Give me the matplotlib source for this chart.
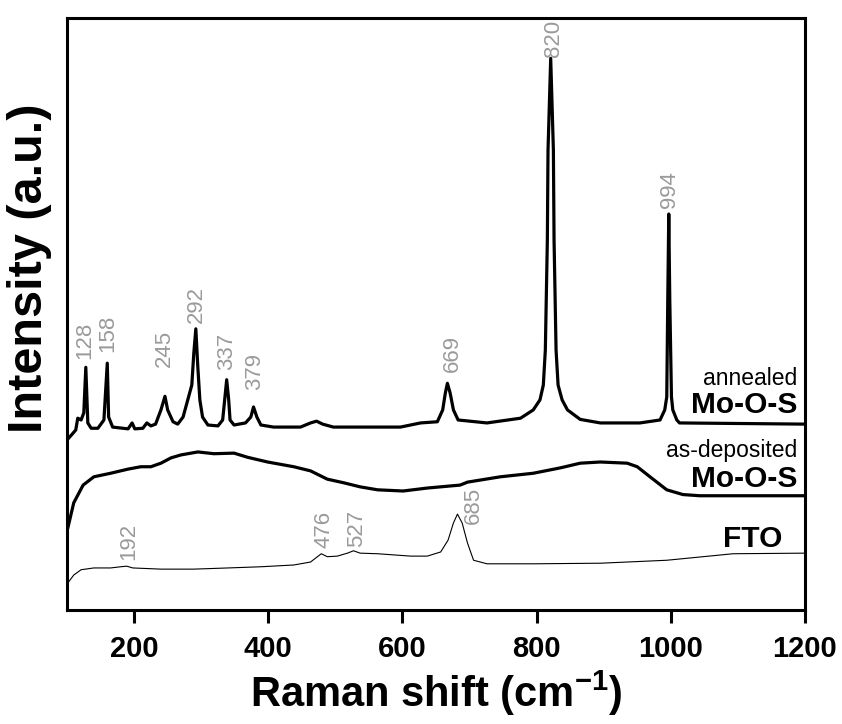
import matplotlib
matplotlib.use("Agg")
import matplotlib.pyplot as plt

# Raman shift (cm-1) and intensity (a.u., stacked)
annealed_shift = [103, 113, 116, 121, 125, 128, 131, 136, 146, 155, 160, 162, 168, 191, 197, 201,
                  213, 219, 225, 232, 240, 246, 250, 258, 265, 273, 280, 286, 289, 292, 295, 298,
                  302, 310, 325, 332, 335, 338, 341, 343, 349, 366, 374, 378, 383, 389, 408, 448,
                  463, 472, 481, 497, 508, 597, 627, 652, 660, 664, 667, 671, 676, 683, 726, 776,
                  795, 805, 810, 813, 816, 817, 821, 825, 826, 829, 832, 838, 846, 865, 895, 954,
                  984, 991, 994, 995.5, 997, 998.5, 1001, 1003, 1009, 1013, 1200]
annealed_int = [29.1, 30.4, 32.4, 32.1, 33.3, 41.0, 31.6, 30.7, 30.7, 32.1, 41.7, 32.6, 30.9, 30.6, 31.6, 30.6,
                30.7, 31.6, 31.1, 31.4, 33.8, 36.1, 33.8, 31.8, 31.4, 32.6, 35.5, 38.0, 43.4, 47.5, 41.0, 35.5,
                32.6, 31.25, 31.1, 32.1, 35.5, 38.9, 35.5, 32.1, 31.25, 31.6, 32.6, 34.3, 32.6, 31.25, 30.9, 30.9,
                31.6, 31.9, 31.4, 30.9, 30.9, 30.9, 31.6, 31.8, 33.8, 36.7, 38.3, 36.7, 33.8, 32.1, 31.6, 32.4,
                33.8, 35.5, 38.0, 43.9, 62.5, 77.7, 93.2, 77.7, 62.5, 43.9, 38.0, 35.5, 33.8, 32.2, 31.6, 31.6,
                32.1, 33.8, 36.0, 52.4, 66.9, 52.4, 36.0, 33.8, 32.1, 31.6, 31.4]

deposited_shift = [101.5, 110, 124, 140, 165, 191, 210, 225, 240, 255, 270, 295, 319, 349, 369, 399,
                   438, 463, 488, 512, 537, 563, 601, 637, 686, 697, 746, 795, 835, 865, 895, 935,
                   950, 969, 994, 1018, 1043, 1200]
deposited_int = [14.0, 18.1, 21.1, 22.5, 23.1, 23.8, 24.2, 24.2, 24.8, 25.7, 26.2, 26.7, 26.4, 26.5, 25.8, 25.0,
                 24.2, 23.5, 22.1, 21.5, 20.8, 20.3, 20.1, 20.6, 21.1, 21.6, 22.5, 23.1, 24.0, 24.8, 25.0, 24.8,
                 24.2, 22.5, 20.3, 19.5, 19.3, 19.3]

fto_shift = [101.5, 110, 121, 140, 165, 180, 189, 198, 240, 289, 340, 389, 438, 463, 479, 488,
             503, 518, 527, 537, 563, 612, 637, 657, 668, 676, 682, 689, 697, 706, 726, 795,
             895, 994, 1093, 1200]
fto_int = [4.6, 5.9, 6.8, 7.1, 7.1, 7.3, 7.4, 7.1, 6.9, 6.9, 7.1, 7.3, 7.6, 8.1, 9.5, 9.0,
           9.1, 9.6, 10.0, 9.6, 9.5, 9.1, 9.1, 9.8, 11.8, 14.7, 16.2, 14.7, 11.3, 8.4, 7.8, 7.8,
           7.9, 8.4, 9.5, 9.6]

# peak labels: text, x, y (bottom of the rotated text)
annealed_peaks = ["128", "158", "245", "292", "337", "379", "669", "820", "994"]
annealed_peak_x = [127, 160, 245, 293, 338, 380, 674, 825, 998]
annealed_peak_y = [42.4, 43.6, 41.0, 48.5, 40.5, 37.2, 40.2, 93.4, 67.9]
fto_peaks = ["192", "476", "527", "685"]
fto_peak_x = [191.5, 483, 531.5, 706]
fto_peak_y = [8.4, 10.5, 10.6, 14.5]


def plot_raman_spectra() -> None:
    plt.rcParams["font.family"] = ["Liberation Sans", "DejaVu Sans"]
    plt.rcParams["mathtext.fontset"] = "custom"
    plt.rcParams["mathtext.bf"] = "Liberation Sans:bold"
    plt.rcParams["mathtext.rm"] = "Liberation Sans:bold"
    fig = plt.figure(figsize=(8.42, 7.24), dpi=100)
    ax = fig.add_axes([0.0796, 0.1575, 0.8764, 0.8175])

    ax.plot(annealed_shift, annealed_int, color="black", lw=2.3)
    ax.plot(deposited_shift, deposited_int, color="black", lw=2.3)
    ax.plot(fto_shift, fto_int, color="black", lw=0.8)

    grey = "#9a9a9a"
    for label, x, y in zip(annealed_peaks, annealed_peak_x, annealed_peak_y):
        ax.text(x, y, label, rotation=90, ha="center", va="bottom", color=grey, fontsize=16)
    for label, x, y in zip(fto_peaks, fto_peak_x, fto_peak_y):
        ax.text(x, y, label, rotation=90, ha="center", va="bottom", color=grey, fontsize=16)

    # sample names
    ax.text(1189, 38.0, "annealed", ha="right", va="baseline", fontsize=16.5)
    ax.text(1189, 33.3, "Mo-O-S", ha="right", va="baseline", fontsize=21.5, fontweight="bold")
    ax.text(1189, 25.8, "as-deposited", ha="right", va="baseline", fontsize=16.5)
    ax.text(1189, 20.8, "Mo-O-S", ha="right", va="baseline", fontsize=21.5, fontweight="bold")
    ax.text(1167, 10.6, "FTO", ha="right", va="baseline", fontsize=21.5, fontweight="bold")

    ax.set_xlim(100, 1200)
    ax.set_ylim(0, 100)
    ax.set_xticks([200, 400, 600, 800, 1000, 1200])
    ax.set_yticks([])
    ax.tick_params(axis="x", direction="out", length=9, width=2.2, labelsize=21, pad=9)
    for tick in ax.get_xticklabels():
        tick.set_fontweight("bold")
    for spine in ax.spines.values():
        spine.set_linewidth(2.2)

    ax.set_xlabel("Raman shift (cm$^{\\mathrm{-1}}$)", fontsize=30, fontweight="bold", labelpad=4)
    ax.set_ylabel("Intensity (a.u.)", fontsize=35, fontweight="bold")
    ax.yaxis.set_label_coords(-0.02, 0.578)

    fig.savefig("out.png", dpi=100)


if __name__ == "__main__":
    plot_raman_spectra()
